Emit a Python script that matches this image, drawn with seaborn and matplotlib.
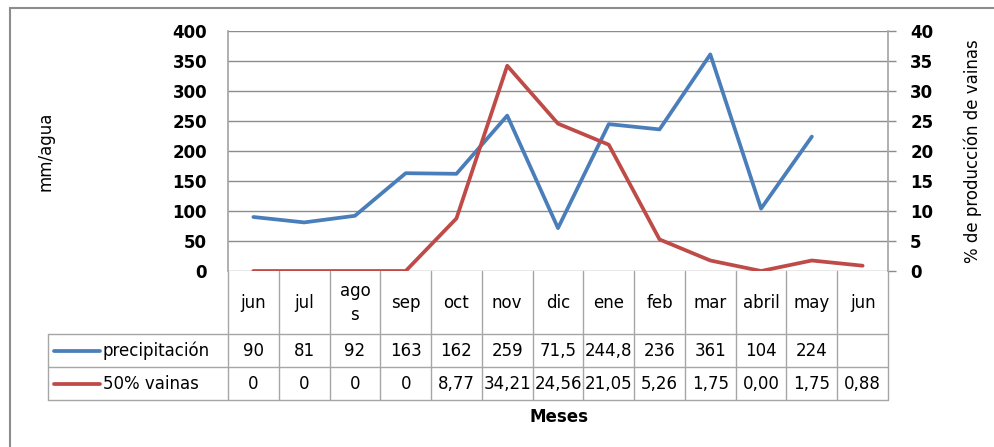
import matplotlib
matplotlib.use("Agg")
import matplotlib.pyplot as plt
import matplotlib.transforms as mtransforms
from matplotlib.lines import Line2D
from matplotlib.patches import Rectangle
import numpy as np
import pandas as pd
import seaborn as sns

months = ["jun", "jul", "ago\ns", "sep", "oct", "nov", "dic", "ene", "feb", "mar", "abril", "may", "jun"]
precip = [90, 81, 92, 163, 162, 259, 71.5, 244.8, 236, 361, 104, 224, np.nan]
vainas = [0, 0, 0, 0, 8.77, 34.21, 24.56, 21.05, 5.26, 1.75, 0.00, 1.75, 0.88]
precip_txt = ["90", "81", "92", "163", "162", "259", "71,5", "244,8", "236", "361", "104", "224", ""]
vainas_txt = ["0", "0", "0", "0", "8,77", "34,21", "24,56", "21,05", "5,26", "1,75", "0,00", "1,75", "0,88"]

BLUE = "#4A7EBB"
RED = "#BE4B48"
GRID = "#8C8C8C"
CELL = "#A6A6A6"
FS = 12

sns.set_theme(style="white")
plt.rcParams["font.family"] = ["DejaVu Sans"]
plt.rcParams["text.color"] = "black"
plt.rcParams["axes.labelcolor"] = "black"

W, H = 994, 447
fig = plt.figure(figsize=(W / 100, H / 100), dpi=100)

# plot area in pixels
L, R, T, B = 228, 888, 31, 271
ax = fig.add_axes([L / W, 1 - B / H, (R - L) / W, (B - T) / H])
ax2 = ax.twinx()

df = pd.DataFrame({"x": np.arange(len(months)), "precip": precip, "vainas": vainas})
sns.lineplot(data=df, x="x", y="precip", ax=ax, color=BLUE, linewidth=2.7, sort=False)
sns.lineplot(data=df, x="x", y="vainas", ax=ax2, color=RED, linewidth=2.7, sort=False)

ax.set_xlim(-0.5, len(months) - 0.5)
ax.set_ylim(0, 400)
ax2.set_ylim(0, 40)
ax.set_yticks(np.arange(0, 401, 50))
ax2.set_yticks(np.arange(0, 41, 5))
ax.set_xticks([])
ax.set_xlabel("")
ax2.set_xlabel("")
ax.yaxis.grid(True, color=GRID, linewidth=1)
ax.set_axisbelow(True)

for a in (ax, ax2):
    for s in a.spines.values():
        s.set_visible(False)
ax.spines["left"].set_visible(True)
ax.spines["left"].set_color(CELL)
ax2.spines["right"].set_visible(True)
ax2.spines["right"].set_color(CELL)

ax.tick_params(axis="y", length=0, pad=15, labelsize=FS, labelcolor="black")
ax2.tick_params(axis="y", length=6, width=1, color=GRID, direction="out", pad=10,
                labelsize=FS, labelcolor="black")
for lab in ax.get_yticklabels() + ax2.get_yticklabels():
    lab.set_fontweight("bold")

ax.set_ylabel("mm/agua", fontsize=FS, labelpad=0, color="black")
ax.yaxis.set_label_coords((55 - L) / (R - L), 0.5)
ax2.set_ylabel("% de producción de vainas", fontsize=FS, rotation=90, labelpad=0, color="black")
ax2.yaxis.set_label_coords((963 - L) / (R - L), 0.5)

# data table below the plot
def yax(py):
    return (B - py) / (B - T)

blend = mtransforms.blended_transform_factory(ax.transData, ax.transAxes)
rows = [271, 334, 367, 400]
leg_left = (48 - L) / (R - L)
n = len(months)

for xe in np.arange(n + 1) - 0.5:
    ax.add_line(Line2D([xe, xe], [yax(rows[0]), yax(rows[3])], transform=blend,
                       color=CELL, lw=1, clip_on=False))
for py in rows[1:]:
    ax.add_line(Line2D([leg_left, 1], [yax(py), yax(py)], transform=ax.transAxes,
                       color=CELL, lw=1, clip_on=False))
ax.add_line(Line2D([leg_left, leg_left], [yax(rows[1]), yax(rows[3])], transform=ax.transAxes,
                   color=CELL, lw=1, clip_on=False))

for i in range(n):
    ax.text(i, yax(303), months[i], transform=blend, ha="center", va="center",
            fontsize=FS, linespacing=1.4, color="black", clip_on=False)
    ax.text(i, yax(350.5), precip_txt[i], transform=blend, ha="center", va="center",
            fontsize=FS, color="black", clip_on=False)
    ax.text(i, yax(384), vainas_txt[i], transform=blend, ha="center", va="center",
            fontsize=FS, color="black", clip_on=False)

for name, color, py in [("precipitación", BLUE, 350.5), ("50% vainas", RED, 384)]:
    ax.add_line(Line2D([(54 - L) / (R - L), (100 - L) / (R - L)], [yax(py), yax(py)],
                       transform=ax.transAxes, color=color, lw=2.7, clip_on=False))
    ax.text((103 - L) / (R - L), yax(py), name, transform=ax.transAxes, ha="left",
            va="center", fontsize=FS, color="black", clip_on=False)

fig.text(559 / W, 1 - 417 / H, "Meses", ha="center", va="center", fontsize=FS,
         fontweight="bold", color="black")

# outer chart frame
fig.patches.append(Rectangle((10 / W, -0.1), 1.2, 1 - 8 / H + 0.1, transform=fig.transFigure,
                             fill=False, edgecolor="#8C8C8C", lw=1.5))

fig.savefig("out.png", dpi=100)
